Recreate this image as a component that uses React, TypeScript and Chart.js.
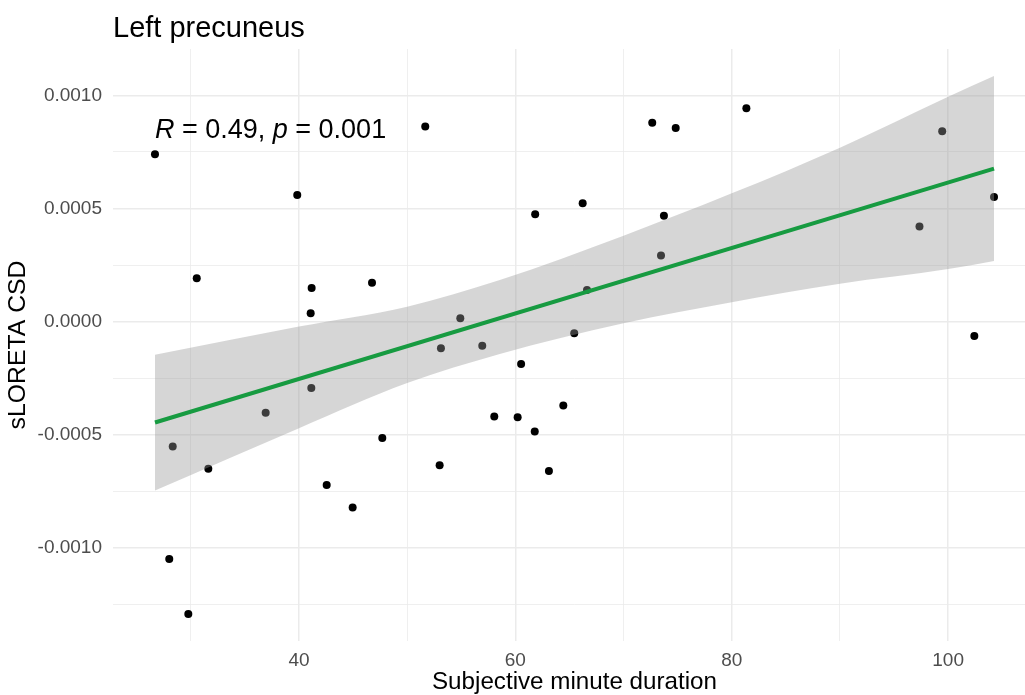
import React, { useEffect, useRef } from "react";
import { Chart, registerables } from "chart.js";

Chart.register(...registerables);

// ---------- data ----------
const X_VALUES = [
  26.69, 28.01, 28.33, 29.77, 30.55, 31.62, 36.92, 39.84, 41.08, 41.17,
  41.14, 42.56, 44.96, 46.75, 47.7, 51.67, 53.0, 53.12, 54.91, 56.94,
  58.05, 60.21, 60.53, 61.79, 61.83, 63.1, 64.43, 65.44, 66.22, 66.62,
  72.65, 73.46, 73.73, 74.82, 81.35, 97.35, 99.45, 102.42, 104.24,
];
const Y_VALUES = [
  0.00074, -0.00105, -0.000552, -0.001293, 0.000192, -0.000651, -0.000403, 0.00056, 0.0000365, 0.000148,
  -0.000294, -0.000722, -0.000822, 0.000172, -0.000515, 0.000862, -0.000635, -0.000118, 0.000015, -0.000107,
  -0.00042, -0.000423, -0.000188, -0.000486, 0.000475, -0.00066, -0.000371, -0.0000513, 0.000523, 0.00014,
  0.000879, 0.000292, 0.000468, 0.000856, 0.000943, 0.00042, 0.000841, -0.0000632, 0.000551,
];

// linear fit and its 95% confidence band
const FIT_X = [26.69, 104.24];
const FIT_Y = [-0.000446, 0.000676];
const BAND_X = [26.69, 40, 50, 58.56, 70, 80, 90, 100, 104.24];
const BAND_UPPER = [-0.000147, -0.000022, 0.000066, 0.000184, 0.00038, 0.000567, 0.000769, 0.000994, 0.001086];
const BAND_LOWER = [-0.000747, -0.000471, -0.000272, -0.000143, -0.000007, 0.0000857, 0.000167, 0.000232, 0.000268];

const TITLE = "Left precuneus";
const X_TITLE = "Subjective minute duration";
const Y_TITLE = "sLORETA CSD";
const STAT_LABEL = [
  { text: "R", italic: true },
  { text: " = 0.49, ", italic: false },
  { text: "p", italic: true },
  { text: " = 0.001", italic: false },
];
const ANNOT_Y = 0.00081;

const X_MIN = 22.81;
const X_MAX = 108.12;
const Y_MIN = -0.001412;
const Y_MAX = 0.001205;
const X_STEP = 10;
const Y_STEP = 0.00025;
const X_MAJOR_TICKS = [40, 60, 80, 100];
const Y_MAJOR_TICKS = [-0.001, -0.0005, 0, 0.0005, 0.001];

const FONT = '"Liberation Sans", Arial, Helvetica, sans-serif';
const GREEN = "#179B41";

const isMajor = (v: number, majors: number[]) =>
  majors.some((m) => Math.abs(m - v) < 1e-9);

const zip = (xs: number[], ys: number[]) => xs.map((x, i) => ({ x, y: ys[i] }));

const textPlugin = {
  id: "textOverlay",
  afterDraw(chart: any) {
    const { ctx, chartArea, scales } = chart;
    ctx.save();
    ctx.fillStyle = "#000";
    ctx.textAlign = "left";
    ctx.textBaseline = "alphabetic";
    ctx.font = `29px ${FONT}`;
    ctx.fillText(TITLE, chartArea.left, 37);

    let x = scales.x.getPixelForValue(Math.min(...X_VALUES));
    const y = scales.y.getPixelForValue(ANNOT_Y);
    for (const seg of STAT_LABEL) {
      ctx.font = `${seg.italic ? "italic " : ""}27px ${FONT}`;
      ctx.fillText(seg.text, x, y);
      x += ctx.measureText(seg.text).width;
    }
    ctx.restore();
  },
};

export default function App() {
  const ref = useRef<HTMLCanvasElement | null>(null);

  useEffect(() => {
    if (!ref.current) return;
    const chart = new Chart(ref.current, {
      type: "scatter",
      data: {
        datasets: [
          {
            data: zip(FIT_X, FIT_Y),
            showLine: true,
            borderColor: GREEN,
            borderWidth: 4,
            pointRadius: 0,
            fill: false,
          } as any,
          {
            data: zip(BAND_X, BAND_UPPER),
            showLine: true,
            borderWidth: 0,
            borderColor: "rgba(0,0,0,0)",
            pointRadius: 0,
            cubicInterpolationMode: "monotone",
            fill: "+1",
            backgroundColor: "rgba(153,153,153,0.4)",
          },
          {
            data: zip(BAND_X, BAND_LOWER),
            showLine: true,
            borderWidth: 0,
            borderColor: "rgba(0,0,0,0)",
            pointRadius: 0,
            cubicInterpolationMode: "monotone",
            fill: false,
          },
          {
            data: zip(X_VALUES, Y_VALUES),
            showLine: false,
            pointRadius: 4,
            pointBackgroundColor: "#000",
            pointBorderWidth: 0,
            pointBorderColor: "#000",
          },
        ],
      },
      options: {
        animation: false,
        responsive: false,
        devicePixelRatio: 1,
        layout: { autoPadding: false, padding: { top: 49, left: 0, right: 4, bottom: 0 } },
        plugins: {
          legend: { display: false },
          tooltip: { enabled: false },
          title: { display: false },
        },
        scales: {
          x: {
            type: "linear",
            min: X_MIN,
            max: X_MAX,
            border: { display: false },
            grid: {
              color: "#EBEBEB",
              drawTicks: false,
              lineWidth: (c: any) => (isMajor(c.tick?.value, X_MAJOR_TICKS) ? 1.5 : 0.8),
            },
            ticks: {
              stepSize: X_STEP,
              includeBounds: false,
              autoSkip: false,
              maxRotation: 0,
              padding: 8,
              color: "#4D4D4D",
              font: { family: FONT, size: 19 },
              callback: (v: any) => (isMajor(Number(v), X_MAJOR_TICKS) ? String(v) : ""),
            },
            title: {
              display: true,
              text: X_TITLE,
              color: "#000",
              font: { family: FONT, size: 24.2 },
              padding: { top: 0, bottom: -2 },
            },
            afterFit: (s: any) => {
              s.height = 54;
            },
          },
          y: {
            type: "linear",
            min: Y_MIN,
            max: Y_MAX,
            border: { display: false },
            grid: {
              color: "#EBEBEB",
              drawTicks: false,
              lineWidth: (c: any) => (isMajor(c.tick?.value, Y_MAJOR_TICKS) ? 1.5 : 0.8),
            },
            ticks: {
              stepSize: Y_STEP,
              includeBounds: false,
              autoSkip: false,
              padding: 11,
              color: "#4D4D4D",
              font: { family: FONT, size: 19 },
              callback: (v: any) =>
                isMajor(Number(v), Y_MAJOR_TICKS) ? Number(v).toFixed(4).replace("-0.0000", "0.0000") : "",
            },
            title: {
              display: true,
              text: Y_TITLE,
              color: "#000",
              font: { family: FONT, size: 24.8 },
              padding: { top: 3, bottom: 0 },
            },
            afterFit: (s: any) => {
              s.width = 113;
            },
          },
        },
      } as any,
      plugins: [textPlugin],
    });
    return () => chart.destroy();
  }, []);

  return (
    <div
      style={{
        position: "absolute",
        left: 0,
        top: 0,
        width: 1025,
        height: 695,
        overflow: "hidden",
        background: "#fff",
      }}
    >
      <canvas ref={ref} width={1040} height={695} style={{ display: "block" }} />
    </div>
  );
}
